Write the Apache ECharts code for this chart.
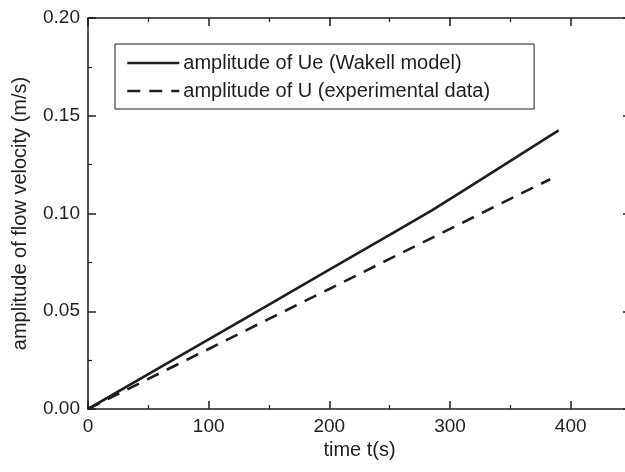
<!DOCTYPE html>
<html>
<head>
<meta charset="utf-8">
<script src="https://cdn.jsdelivr.net/npm/echarts@6/dist/echarts.min.js"></script>
<style>
html,body{margin:0;padding:0;background:#fff;}
#chart{width:625px;height:472px;}
</style>
</head>
<body>
<div id="chart"></div>
<script>
// Data
const tModel = [0, 50, 100, 150, 200, 250, 285, 320, 355, 390];
const uModel = [0, 0.0178, 0.0356, 0.0534, 0.0713, 0.0891, 0.1016, 0.1152, 0.1288, 0.1425];
const tExp = [0, 50, 100, 150, 200, 250, 300, 350, 383];
const uExp = [0, 0.0154, 0.0307, 0.0461, 0.0614, 0.0768, 0.0921, 0.1075, 0.1175];
const seriesNames = ['amplitude of Ue (Wakell model)', 'amplitude of U (experimental data)'];
const xTitle = 'time t(s)';
const yTitle = 'amplitude of flow velocity (m/s)';

const FONT = '"Liberation Sans", Arial, Helvetica, sans-serif';
const INK = '#1e1e1e';

function pairs(xs, ys) { return xs.map((x, i) => [x, ys[i]]); }

const axisCommon = {
  axisLine: { show: true, onZero: false, lineStyle: { color: INK, width: 1.5 } },
  axisTick: { show: true, inside: true, length: 8, lineStyle: { color: INK, width: 1.5 } },
  minorTick: { show: true, splitNumber: 2, length: 4, lineStyle: { color: INK, width: 1.2 } },
  splitLine: { show: false }
};

const chart = echarts.init(document.getElementById('chart'), null, { renderer: 'canvas' });
chart.setOption({
  animation: false,
  backgroundColor: '#fff',
  grid: { left: 88, top: 18, right: -6, bottom: 63, containLabel: false, outerBoundsMode: 'none' },
  legend: {
    orient: 'vertical',
    left: 115,
    top: 44,
    padding: [9, 44, 8, 11],
    itemGap: 8,
    itemWidth: 52,
    itemHeight: 14,
    borderColor: INK,
    borderWidth: 1,
    borderRadius: 0,
    itemStyle: { opacity: 0 },
    lineStyle: { width: 2.6 },
    textStyle: { fontFamily: FONT, fontSize: 20, color: INK, padding: [0, 0, 0, -1] },
    data: seriesNames
  },
  xAxis: [
    Object.assign({}, axisCommon, {
      type: 'value', position: 'bottom', min: 0, max: 450, interval: 100,
      name: xTitle, nameLocation: 'middle', nameGap: 15,
      nameTextStyle: { fontFamily: FONT, fontSize: 20, color: INK },
      axisLabel: { show: true, margin: 8, fontFamily: FONT, fontSize: 19, color: INK,
        formatter: v => (v % 100 === 0 ? String(v) : '') }
    }),
    Object.assign({}, axisCommon, {
      type: 'value', position: 'top', min: 0, max: 450, interval: 100,
      axisLabel: { show: false }
    })
  ],
  yAxis: [
    Object.assign({}, axisCommon, {
      type: 'value', position: 'left', min: 0, max: 0.2, interval: 0.05,
      name: yTitle, nameLocation: 'middle', nameGap: 58, nameRotate: 90,
      nameTextStyle: { fontFamily: FONT, fontSize: 20, color: INK },
      axisLabel: { show: true, margin: 8, fontFamily: FONT, fontSize: 19, color: INK,
        formatter: v => v.toFixed(2) }
    }),
    Object.assign({}, axisCommon, {
      type: 'value', position: 'right', min: 0, max: 0.2, interval: 0.05,
      axisLabel: { show: false }
    })
  ],
  series: [
    {
      name: seriesNames[0], type: 'line', xAxisIndex: 0, yAxisIndex: 0,
      data: pairs(tModel, uModel), symbol: 'none', smooth: false,
      lineStyle: { color: INK, width: 2.6, type: 'solid' },
      itemStyle: { color: INK }
    },
    {
      name: seriesNames[1], type: 'line', xAxisIndex: 0, yAxisIndex: 0,
      data: pairs(tExp, uExp), symbol: 'none', smooth: false,
      lineStyle: { color: INK, width: 2.6, type: [13, 9] },
      itemStyle: { color: INK }
    }
  ]
});
</script>
</body>
</html>
